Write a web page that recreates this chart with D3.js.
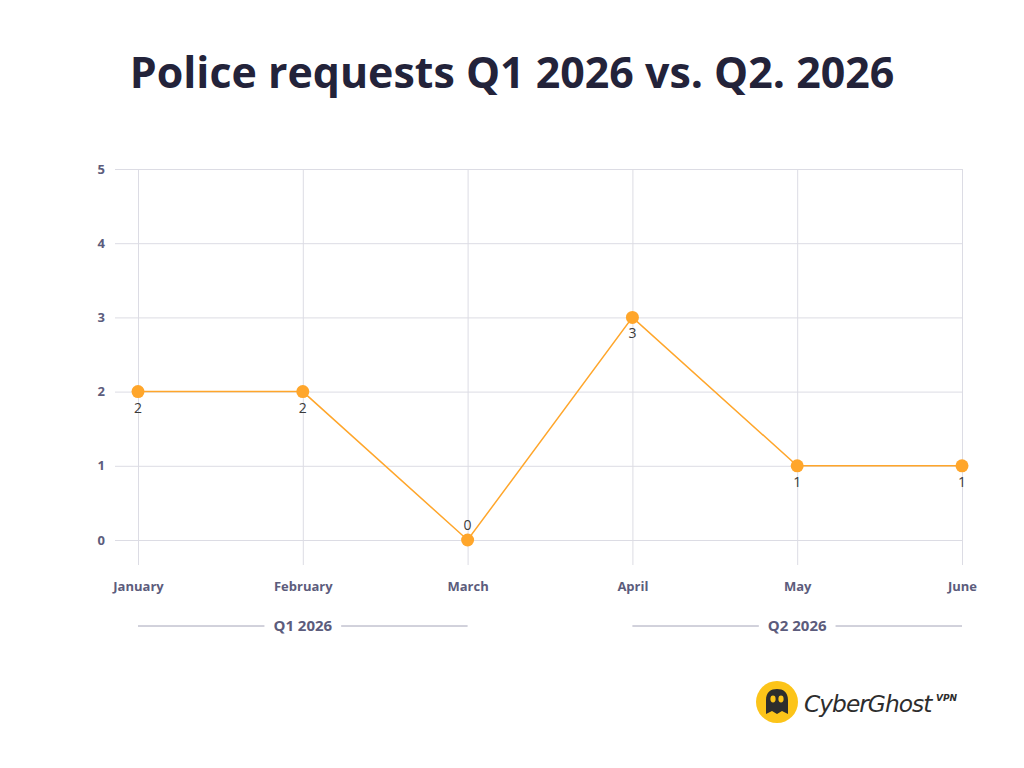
<!DOCTYPE html>
<html>
<head>
<meta charset="utf-8">
<script src="https://cdn.jsdelivr.net/npm/d3@7"></script>
<style>
  body { margin: 0; background: #fff; }
  svg { display: block; }
</style>
</head>
<body>
<div id="main"></div>
<script>
// chart data
const months = ['January', 'February', 'March', 'April', 'May', 'June'];
const requests = [2, 2, 0, 3, 1, 1];
const yTicks = [0, 1, 2, 3, 4, 5];
const quarters = ['Q1 2026', 'Q2 2026'];
const quarterMonths = [['January', 'March'], ['April', 'June']];

const width = 1024, height = 768;
const svg = d3.select('#main').append('svg')
  .attr('width', width).attr('height', height);

const x = d3.scalePoint().domain(months).range([138, 962]);
const y = d3.scaleLinear().domain([0, 5]).range([540, 169]);

const axisColor = '#5c5c7c';
const gridColor = '#dcdce4';
const lineColor = '#ffa62b';
const font = '"Open Sans", Lato, sans-serif';

// title, sized to the reference width
const title = svg.append('text')
  .attr('x', 512).attr('y', 88)
  .attr('text-anchor', 'middle')
  .attr('font-family', '"Open Sans", Lato, sans-serif')
  .attr('font-weight', 700)
  .attr('fill', '#23233a')
  .attr('font-size', 44)
  .text('Police requests Q1 2026 vs. Q2. 2026');
let tw = title.node().getComputedTextLength();
title.attr('font-size', 44 * 765 / tw);

// horizontal grid + y labels
const yAxis = svg.append('g')
  .attr('transform', 'translate(115,0)')
  .call(d3.axisLeft(y).tickValues(yTicks).tickSize(-(962 - 115)).tickPadding(10).tickFormat(d3.format('d')));
yAxis.select('.domain').remove();
yAxis.selectAll('.tick line').attr('stroke', gridColor);
yAxis.selectAll('.tick text')
  .attr('font-family', font).attr('font-weight', 700)
  .attr('font-size', 13).attr('fill', axisColor);

// vertical grid + month labels
const xAxis = svg.append('g')
  .attr('transform', 'translate(0,565)')
  .call(d3.axisBottom(x).tickSize(-(565 - 169)).tickPadding(17));
xAxis.select('.domain').remove();
xAxis.selectAll('.tick line').attr('stroke', gridColor);
xAxis.selectAll('.tick text')
  .attr('font-family', font).attr('font-weight', 700)
  .attr('font-size', 13).attr('fill', axisColor);

// quarter brackets
quarters.forEach(function(q, i) {
  const x0 = x(quarterMonths[i][0]), x1 = x(quarterMonths[i][1]);
  const cx = (x0 + x1) / 2;
  const g = svg.append('g');
  const t = g.append('text')
    .attr('x', cx).attr('y', 631)
    .attr('text-anchor', 'middle')
    .attr('font-family', font).attr('font-weight', 700)
    .attr('font-size', 15).attr('fill', axisColor)
    .text(q);
  const half = t.node().getComputedTextLength() / 2 + 9;
  g.append('line').attr('x1', x0).attr('x2', cx - half)
    .attr('y1', 626).attr('y2', 626).attr('stroke', '#a4a4b8');
  g.append('line').attr('x1', cx + half).attr('x2', x1)
    .attr('y1', 626).attr('y2', 626).attr('stroke', '#a4a4b8');
});

// line + points
const pts = months.map((m, i) => ({ m: m, v: requests[i] }));
svg.append('path').datum(pts)
  .attr('fill', 'none').attr('stroke', lineColor).attr('stroke-width', 1.5)
  .attr('d', d3.line().x(d => x(d.m)).y(d => y(d.v)));
svg.selectAll('circle.pt').data(pts).enter().append('circle')
  .attr('class', 'pt')
  .attr('cx', d => x(d.m)).attr('cy', d => y(d.v))
  .attr('r', 6.5).attr('fill', lineColor);
svg.selectAll('text.lbl').data(pts).enter().append('text')
  .attr('class', 'lbl')
  .attr('x', d => x(d.m))
  .attr('y', d => d.v === 0 ? y(d.v) - 10 : y(d.v) + 21)
  .attr('text-anchor', 'middle')
  .attr('font-family', font).attr('font-size', 14).attr('fill', '#3a3a3a')
  .text(d => d.v);

// logo
const logo = svg.append('g').attr('transform', 'translate(777,702)');
logo.append('circle').attr('r', 21).attr('fill', '#fcc419');
logo.append('path')
  .attr('d', 'M-11,12 L-11,-2 C-11,-10 -6,-13 0,-13 C6,-13 11,-10 11,-2 L11,12 L5,9 L0,12 L-5,9 Z')
  .attr('fill', '#2d2d2d');
logo.append('ellipse').attr('cx', -4).attr('cy', -3).attr('rx', 2.6).attr('ry', 3.4).attr('fill', '#fcc419');
logo.append('ellipse').attr('cx', 4).attr('cy', -3).attr('rx', 2.6).attr('ry', 3.4).attr('fill', '#fcc419');
const brand = svg.append('text')
  .attr('x', 804).attr('y', 712)
  .attr('font-family', '"DejaVu Sans", sans-serif')
  .attr('font-style', 'italic').attr('font-size', 25).attr('letter-spacing', -1)
  .attr('fill', '#2d2d2d')
  .text('CyberGhost');
const bw = brand.node().getComputedTextLength();
brand.attr('font-size', 25 * 128 / bw);
svg.append('text')
  .attr('x', 936).attr('y', 701)
  .attr('font-family', '"DejaVu Sans", sans-serif')
  .attr('font-style', 'italic').attr('font-weight', 700).attr('font-size', 9)
  .attr('fill', '#2d2d2d')
  .text('VPN');
</script>
</body>
</html>
